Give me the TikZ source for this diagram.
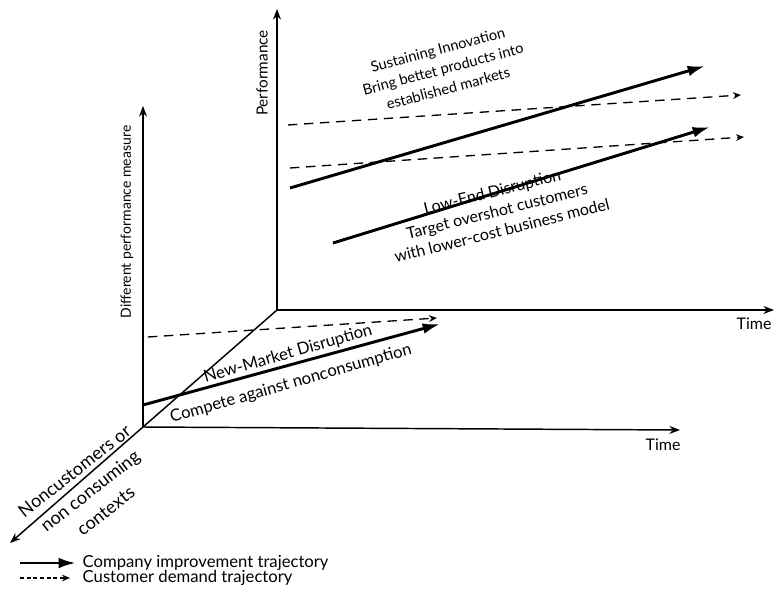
\documentclass[tikz,border=0pt]{standalone}
\usepackage{fontspec}
\setmainfont{Lato}
\usetikzlibrary{arrows.meta}
\tikzset{>=Stealth,every node/.style={font=\fontsize{12}{15}\selectfont,align=center},axis/.style={line width=1.1pt,->},firm/.style={line width=2.2pt,-{Latex[length=13pt,width=8pt]}},demand/.style={line width=1pt,dash pattern=on 7pt off 5pt,-{Stealth[length=6pt,width=5pt]}}}
\begin{document}
\begin{tikzpicture}[x=0.75pt,y=-0.75pt]
\useasboundingbox (0,0) rectangle (776,592);
% origins and axis ends
\coordinate (back) at (277,310);\coordinate (front) at (143,427);
\coordinate (perf) at (277,9);\coordinate (tback) at (774,310);
\coordinate (diff) at (143,106);\coordinate (tfront) at (680,430);\coordinate (nonc) at (10,543);
\draw[axis] (back)--(perf);\draw[axis] (back)--(tback);
\draw[axis] (front)--(diff);\draw[axis] (front)--(tfront);
\draw[line width=1.1pt] (back)--(front);\draw[axis] (front)--(nonc);
\node[rotate=90,font=\fontsize{11.5}{13}\selectfont] (lperf) at (262,73){Performance};
\node[rotate=90,font=\fontsize{10.5}{12}\selectfont] (ldiff) at (127,222){Different performance measure};
\node (ltback) at (754,324){Time};\node (ltfront) at (663,445){Time};
\node[rotate=38,font=\fontsize{13.5}{19}\selectfont] (lnonc) at (90,491){Noncustomers or\\non consuming\\contexts};
% established markets
\coordinate (s1) at (290,188);\coordinate (s2) at (705,66);
\coordinate (l1) at (333,243);\coordinate (l2) at (710,127);
\coordinate (d1) at (288,125);\coordinate (d2) at (741,95);
\coordinate (e1) at (290,168);\coordinate (e2) at (744,137);
\draw[demand] (d1)--(d2);\draw[demand] (e1)--(e2);
\draw[firm] (s1)--(s2);\draw[firm] (l1)--(l2);
\node[rotate=15,font=\fontsize{11}{15}\selectfont] (lsust) at (443,69){Sustaining Innovation\\Bring bettet products into\\established markets};
\node[rotate=14] (llow) at (497,211){Low-End Disruption\\Target overshot customers\\with lower-cost business model};
% new market
\coordinate (n1) at (143,405);\coordinate (n2) at (440,324);
\coordinate (m1) at (148,337);\coordinate (m2) at (437,318);
\draw[demand] (m1)--(m2);\draw[firm] (n1)--(n2);
\node[rotate=16,font=\fontsize{12.5}{15}\selectfont] (lnew) at (288,354){New-Market Disruption};
\node[rotate=16,font=\fontsize{12.5}{15}\selectfont] (lcomp) at (291,384){Compete against nonconsumption};
% legend
\coordinate (k1) at (20,563);\coordinate (k2) at (76,563);
\coordinate (k3) at (20,578);\coordinate (k4) at (70,578);
\draw[firm] (k1)--(k2);\draw[demand,dash pattern=on 3pt off 2pt] (k3)--(k4);
\node[anchor=west,font=\fontsize{12.5}{15}\selectfont] (lk1) at (78,563){Company improvement trajectory};
\node[anchor=west,font=\fontsize{12.5}{15}\selectfont] (lk2) at (78,578){Customer demand trajectory};
\end{tikzpicture}
\end{document}
